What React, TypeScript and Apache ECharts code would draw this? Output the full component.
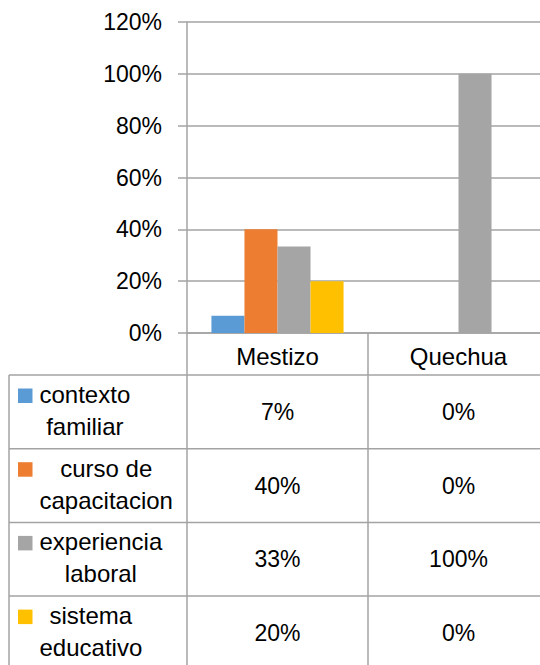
import React, { useEffect, useRef } from "react";
import * as echarts from "echarts";

const categories = ["Mestizo", "Quechua"];
const seriesNames = ["contexto familiar", "curso de capacitacion", "experiencia laboral", "sistema educativo"];
const legendLines = [["contexto", "familiar"], ["curso de", "capacitacion"], ["experiencia", "laboral"], ["sistema", "educativo"]];
const contextoFamiliar = [6.67, 0];
const cursoCapacitacion = [40, 0];
const experienciaLaboral = [33.33, 100];
const sistemaEducativo = [20, 0];
const seriesValues = [contextoFamiliar, cursoCapacitacion, experienciaLaboral, sistemaEducativo];
const colors = ["#5B9BD5", "#ED7D31", "#A5A5A5", "#FFC000"];
const yTicks = { min: 0, max: 120, interval: 20 };

const FONT = "'Liberation Sans', Arial, sans-serif";
const LINE = "#A3A3A3";

export default function App() {
  const ref = useRef<HTMLDivElement>(null);
  useEffect(() => {
    if (!ref.current) return;
    const chart = echarts.init(ref.current, undefined, { renderer: "svg" });
    const gridLeft = 187, gridTop = 22, gridW = 362, gridH = 311;
    const gridBottom = gridTop + gridH;
    const headerH = 42;
    const rowH = 73.7;
    const tableLeft = 9;
    const tableRight = gridLeft + gridW;

    const option: any = {
      animation: false,
      grid: { left: gridLeft, top: gridTop, width: gridW, height: gridH },
      xAxis: {
        type: "category",
        data: categories,
        axisLine: { show: true, lineStyle: { color: LINE, width: 1.5 } },
        axisTick: { show: true, length: 360, interval: 0, lineStyle: { color: LINE, width: 1.5 } },
        axisLabel: { fontSize: 24, color: "#000", fontFamily: FONT, margin: 11, lineHeight: 24 },
      },
      yAxis: {
        type: "value",
        min: yTicks.min,
        max: yTicks.max,
        interval: yTicks.interval,
        axisLine: { show: true, lineStyle: { color: LINE, width: 1.5 } },
        axisTick: { show: true, length: 9, lineStyle: { color: LINE, width: 1.5 } },
        splitLine: { show: true, lineStyle: { color: LINE, width: 1.5 } },
        axisLabel: { fontSize: 23, color: "#000", fontFamily: FONT, margin: 25, formatter: "{value}%" },
      },
      series: seriesNames.map((name, i) => ({
        name,
        type: "bar",
        data: seriesValues[i],
        barGap: 0,
        barCategoryGap: "27%",
        itemStyle: { color: colors[i] },
      })),
    };
    chart.setOption(option);

    const canvas = document.createElement("canvas");
    const ctx = canvas.getContext("2d")!;
    ctx.font = "24px " + FONT;

    const graphic: any[] = [];
    const tableTop = gridBottom + headerH;
    const tableBottom = tableTop + rowH * seriesNames.length;
    for (let r = 0; r <= seriesNames.length; r++) {
      const y = tableTop + r * rowH;
      graphic.push({ type: "line", shape: { x1: tableLeft, y1: y, x2: tableRight, y2: y }, style: { stroke: LINE, lineWidth: 1.5 } });
    }
    graphic.push({ type: "line", shape: { x1: tableLeft, y1: tableTop, x2: tableLeft, y2: tableBottom }, style: { stroke: LINE, lineWidth: 1.5 } });

    seriesNames.forEach((_, r) => {
      const top = tableTop + r * rowH;
      const cy = top + rowH / 2;
      graphic.push({ type: "rect", shape: { x: 18, y: top + 13.5, width: 14.5, height: 14.5 }, style: { fill: colors[r] } });
      const lines = legendLines[r];
      const maxW = Math.max(...lines.map((l) => ctx.measureText(l).width));
      graphic.push({
        type: "text",
        x: 39.5 + maxW / 2,
        y: cy - 1.5,
        style: { text: lines.join("\n"), font: "24px " + FONT, fill: "#000", align: "center", verticalAlign: "middle", lineHeight: 32 },
      });
      categories.forEach((c, ci) => {
        const px = chart.convertToPixel({ xAxisIndex: 0 }, c) as number;
        graphic.push({
          type: "text",
          x: px,
          y: cy,
          style: { text: Math.round(seriesValues[r][ci]) + "%", font: "23px " + FONT, fill: "#000", align: "center", verticalAlign: "middle" },
        });
      });
    });
    chart.setOption({ graphic });

    return () => chart.dispose();
  }, []);
  return (
    <div style={{ position: "fixed", left: 0, top: 0, width: 540, height: 665, overflow: "hidden", background: "#fff" }}>
      <div ref={ref} style={{ width: 570, height: 665 }} />
    </div>
  );
}
